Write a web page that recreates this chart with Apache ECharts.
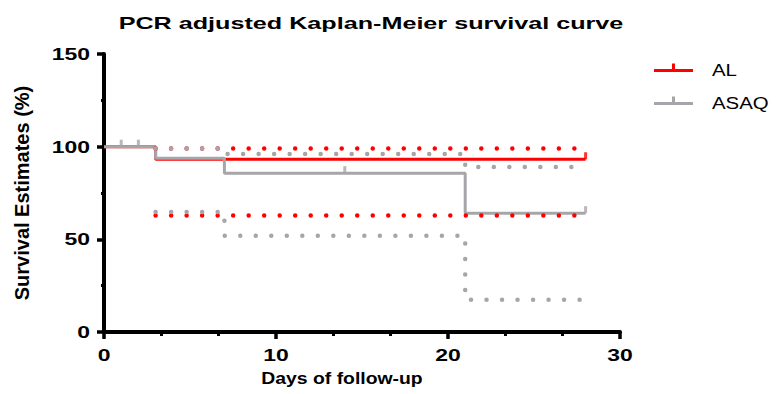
<!DOCTYPE html>
<html><head><meta charset="utf-8">
<script src="https://cdn.jsdelivr.net/npm/echarts@6/dist/echarts.min.js"></script>
<style>html,body{margin:0;padding:0;background:#fff}#c{width:778px;height:394px}</style>
</head><body><div id="c"></div>
<script>
// ---- data ----
const titleText = 'PCR adjusted Kaplan-Meier survival curve';
const xAxisName = 'Days of follow-up';
const yAxisName = 'Survival Estimates (%)';
const xTicks = [0, 10, 20, 30];
const yTicks = [0, 50, 100, 150];
const groups = ['AL', 'ASAQ'];

const alTimes = [0, 3, 28];
const alSurv = [100, 93.2, 93.2];
const alCiTimes = [3, 28];
const alUpper = [99, 99];
const alLower = [62.8, 62.8];
const alCensorTimes = [28];
const alCensorSurv = [93.2];

const asaqTimes = [0, 3, 7, 21, 28];
const asaqSurv = [100, 93.8, 85.7, 64.1, 64.1];
const asaqCiTimes = [3, 7, 21, 28];
const asaqUpper = [99, 96, 89, 89];
const asaqLower = [64.8, 51.9, 17.4, 17.4];
const asaqCensorTimes = [1, 2, 14, 28];
const asaqCensorSurv = [100, 100, 85.7, 64.1];

// ---- styles ----
const RED = '#ff0000';
const GRAY = '#a6a6aa';
const FONT = 'Liberation Sans';
const pairs = (t, v) => t.map((x, i) => [x, v[i]]);

function solid(name, t, v, color, z) {
  return { name, type: 'line', step: 'end', data: pairs(t, v), symbol: 'none', showSymbol: false,
    lineStyle: { color, width: 3 }, itemStyle: { color }, z, silent: true };
}
function dotted(name, t, v, color, z) {
  return { name, type: 'line', step: 'end', data: pairs(t, v), symbol: 'none', showSymbol: false,
    lineStyle: { color, width: 4.5, type: [0.01, 15.5], cap: 'round' }, itemStyle: { color }, z, silent: true };
}
function censor(name, t, v, color, z) {
  return { name, type: 'scatter', data: pairs(t, v), symbol: 'rect', symbolSize: [3, 7],
    symbolOffset: [0, -3.5], itemStyle: { color }, z, silent: true };
}

const iconPath = 'path://M0,5.5L39,5.5L39,8.5L0,8.5Z M18,0L21,0L21,5.5L18,5.5Z M0,14L0.1,14L0.1,14.1L0,14.1Z';

const chart = echarts.init(document.getElementById('c'), null, { renderer: 'svg' });
chart.setOption({
  animation: false,
  backgroundColor: '#fff',
  title: {
    text: titleText, left: 366, top: 10, textAlign: 'center',
    textStyle: { fontFamily: FONT, fontSize: 17, fontWeight: 'bold', color: '#000' }
  },
  legend: {
    orient: 'vertical', left: 654, top: 62, itemWidth: 39, itemHeight: 14.1, itemGap: 16,
    padding: 0, selectedMode: false,
    itemStyle: { borderWidth: 0 },
    textStyle: { fontFamily: FONT, fontSize: 17, color: '#000', padding: [0, 0, 0, 14] },
    data: groups.map(name => ({ name, icon: iconPath }))
  },
  grid: { left: 104, right: 158, top: 54, bottom: 62, containLabel: false },
  xAxis: {
    type: 'value', min: xTicks[0], max: xTicks[xTicks.length - 1], interval: xTicks[1] - xTicks[0],
    name: xAxisName, nameLocation: 'middle', nameGap: 38,
    nameTextStyle: { fontFamily: FONT, fontSize: 17, fontWeight: 'bold', color: '#000', padding: [0, 40, 0, 0] },
    axisLine: { onZero: false, lineStyle: { color: '#000', width: 4 } },
    axisTick: { length: 7, lineStyle: { color: '#000', width: 3.5 } },
    minorTick: { show: true, splitNumber: 3, length: 4, lineStyle: { color: '#000', width: 3 } },
    splitLine: { show: false },
    axisLabel: { fontFamily: FONT, fontSize: 17, fontWeight: 'bold', color: '#000', margin: 15 }
  },
  yAxis: {
    type: 'value', min: yTicks[0], max: yTicks[yTicks.length - 1], interval: yTicks[1] - yTicks[0],
    name: yAxisName, nameLocation: 'middle', nameGap: 72,
    nameTextStyle: { fontFamily: FONT, fontSize: 20, fontWeight: 'bold', color: '#000' },
    axisLine: { show: true, onZero: false, lineStyle: { color: '#000', width: 4 } },
    axisTick: { show: true, length: 7, lineStyle: { color: '#000', width: 3.5 } },
    minorTick: { show: true, splitNumber: 2, length: 3, lineStyle: { color: '#000', width: 3 } },
    splitLine: { show: false },
    axisLabel: { fontFamily: FONT, fontSize: 17, fontWeight: 'bold', color: '#000', margin: 14 }
  },
  series: [
    solid('AL', alTimes, alSurv, RED, 2),
    solid('ASAQ', asaqTimes, asaqSurv, GRAY, 3),
    dotted('AL upper CI', alCiTimes, alUpper, RED, 4),
    dotted('AL lower CI', alCiTimes, alLower, RED, 4),
    dotted('ASAQ upper CI', asaqCiTimes, asaqUpper, GRAY, 5),
    dotted('ASAQ lower CI', asaqCiTimes, asaqLower, GRAY, 5),
    censor('AL censored', alCensorTimes, alCensorSurv, RED, 6),
    censor('ASAQ censored', asaqCensorTimes, asaqCensorSurv, GRAY, 6)
  ]
});

// horizontal stretch of texts, as in the reference export
const stretch = {};
stretch[titleText] = 1.48;
xTicks.concat(yTicks).forEach(t => { stretch[String(t)] = 1.35; });
stretch[xAxisName] = 1.14;
groups.forEach(g => { stretch[g] = 1.2; });
function stretchTexts() {
  const svg = document.querySelector('#c svg');
  if (!svg) return;
  svg.querySelectorAll('text').forEach(el => {
    if (el.getAttribute('data-s')) return;
    const s = stretch[el.textContent];
    if (!s) return;
    const c = el.transform.baseVal.consolidate();
    const m = c ? c.matrix : { a: 1, b: 0, c: 0, d: 1, e: 0, f: 0 };
    if (Math.abs(m.b) > 1e-6 || Math.abs(m.c) > 1e-6) return;
    const x = parseFloat(el.getAttribute('x') || 0), y = parseFloat(el.getAttribute('y') || 0);
    const px = m.a * x + m.c * y + m.e;
    el.setAttribute('transform', `matrix(${s * m.a} ${m.b} ${s * m.c} ${m.d} ${s * m.e + px * (1 - s)} ${m.f})`);
    el.setAttribute('data-s', '1');
  });
}
stretchTexts();
chart.on('finished', stretchTexts);
requestAnimationFrame(stretchTexts);
setTimeout(stretchTexts, 50);
</script>
</body></html>
